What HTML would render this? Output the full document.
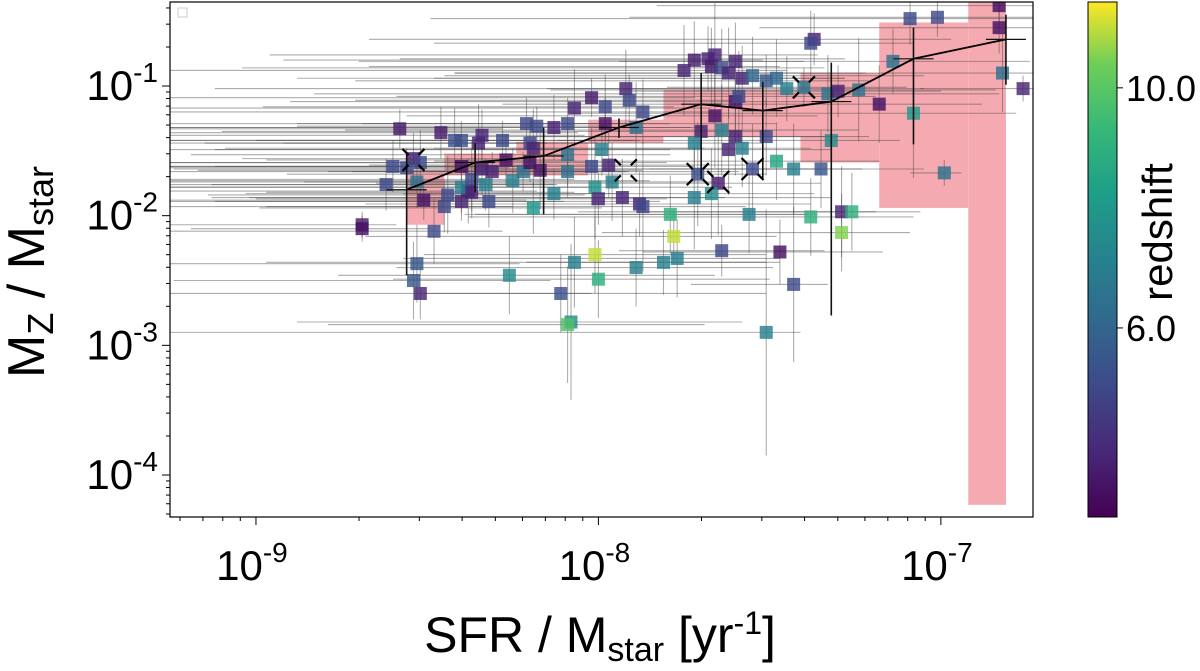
<!DOCTYPE html>
<html><head><meta charset="utf-8"><style>
html,body{margin:0;padding:0;background:#fff;}
svg{display:block;font-family:"Liberation Sans",sans-serif;}
</style></head><body>
<svg id="chart" width="1200" height="671" viewBox="0 0 1200 671">
<defs>
<linearGradient id="vir" x1="0" y1="1" x2="0" y2="0">
<stop offset="0" stop-color="#440154"/><stop offset="0.13" stop-color="#482878"/><stop offset="0.25" stop-color="#3e4989"/><stop offset="0.38" stop-color="#31688e"/><stop offset="0.5" stop-color="#26828e"/><stop offset="0.63" stop-color="#1f9e89"/><stop offset="0.75" stop-color="#35b779"/><stop offset="0.88" stop-color="#6ece58"/><stop offset="1" stop-color="#fde725"/>
</linearGradient>
<clipPath id="plotclip"><rect x="170" y="2" width="863" height="515"/></clipPath>
</defs>
<g id="band" clip-path="url(#plotclip)"></g>
<g id="errs" clip-path="url(#plotclip)"></g>
<g id="pts" clip-path="url(#plotclip)"></g>
<g id="median" clip-path="url(#plotclip)"></g>
<g id="axes"></g>
<rect x="178" y="8" width="9" height="9" fill="none" stroke="#ccc" stroke-width="1"/>
<rect x="1088" y="2" width="29" height="515" fill="url(#vir)" stroke="#000" stroke-width="1"/>
<g id="cbticks"></g>
<text x="1172" y="232" font-size="42" text-anchor="middle" transform="rotate(-90 1172 232)">redshift</text>
<text x="600" y="652" font-size="50" text-anchor="middle">SFR / M<tspan font-size="34" dy="9">star</tspan><tspan dy="-9"> [yr</tspan><tspan font-size="32" dy="-18">-1</tspan><tspan dy="18">]</tspan></text>
<text x="44" y="272" font-size="52" text-anchor="middle" transform="rotate(-90 44 272)">M<tspan font-size="36" dy="9">Z</tspan><tspan dy="-9"> / M</tspan><tspan font-size="36" dy="9">star</tspan></text>
</svg>
<script>
// data (log10 units)
const logSSFR = [-8.58,-8.46,-8.42,-8.40,-8.34,-8.35,-8.28,-8.54,-8.52,-8.60,-8.56,-8.62,-8.53,-8.51,-8.44,-8.45,-8.40,-8.38,-8.40,-8.37,-8.32,-8.40,-8.34,-8.31,-8.27,-8.37,-8.33,-8.25,-8.22,-8.20,-8.19,-8.21,-8.18,-8.13,-8.09,-8.19,-8.17,-8.20,-8.13,-8.09,-8.09,-8.07,-8.02,-7.98,-7.92,-7.91,-7.87,-7.98,-8.02,-7.97,-7.99,-7.96,-8.01,-8.00,-7.93,-7.88,-7.87,-7.89,-7.79,-7.78,-7.09,-7.01,-6.83,-6.83,-6.82,-6.76,-7.37,-7.38,-7.72,-7.75,-7.68,-7.66,-7.67,-7.64,-7.62,-7.60,-7.58,-7.55,-7.51,-7.48,-7.45,-7.40,-7.33,-7.30,-7.24,-7.18,-7.14,-7.08,-7.60,-7.59,-7.66,-7.70,-7.64,-7.60,-7.72,-7.62,-7.58,-7.51,-7.32,-7.48,-7.43,-7.35,-7.71,-7.65,-7.55,-7.72,-7.67,-7.56,-7.38,-7.29,-7.26,-7.29,-7.64,-7.47,-6.99,-7.77,-8.01,-8.07,-7.81,-7.89,-8.26,-8.00,-8.11,-7.43,-8.53,-8.54,-8.52,-8.48,-8.69,-8.69,-8.08,-8.09,-7.51];
const logMZ = [-1.33,-1.36,-1.42,-1.42,-1.38,-1.44,-1.42,-1.56,-1.59,-1.62,-1.63,-1.76,-1.74,-1.88,-1.84,-1.93,-1.89,-1.81,-1.78,-1.82,-1.89,-1.62,-1.64,-1.66,-1.57,-1.72,-1.76,-1.73,-1.66,-1.44,-1.48,-1.29,-1.31,-1.32,-1.29,-1.94,-1.65,-1.59,-1.83,-1.53,-1.66,-1.17,-1.09,-1.16,-1.02,-1.11,-1.20,-1.29,-1.62,-1.61,-1.49,-1.74,-1.78,-1.87,-1.86,-1.91,-1.93,-1.32,-1.99,-2.16,-0.48,-0.47,-0.38,-0.55,-0.90,-1.02,-0.64,-0.67,-0.80,-0.88,-0.79,-0.76,-0.85,-0.86,-0.90,-0.81,-0.94,-0.92,-0.96,-0.94,-1.02,-1.01,-1.06,-1.04,-1.03,-1.14,-0.81,-1.21,-1.12,-1.08,-1.23,-1.35,-1.34,-1.39,-1.44,-1.49,-1.48,-1.39,-1.42,-1.58,-1.64,-1.64,-1.68,-1.75,-1.64,-1.86,-1.83,-1.99,-2.01,-1.97,-1.97,-2.13,-2.27,-2.28,-1.67,-2.33,-2.30,-2.36,-2.36,-2.40,-2.46,-2.49,-2.60,-2.53,-2.37,-2.50,-2.60,-2.12,-2.07,-2.10,-2.82,-2.84,-2.90];
const redshift = [3.6,3.6,5.2,5.2,3.8,3.8,5.0,3.6,5.0,5.0,5.0,5.0,6.5,3.3,5.0,5.0,3.8,3.8,7.0,3.8,5.0,3.3,3.8,3.8,3.3,5.0,7.0,7.0,6.5,5.0,3.8,5.0,5.0,3.8,5.0,8.0,3.5,3.3,7.0,6.5,6.5,3.8,3.6,5.0,3.8,5.0,5.0,3.3,5.0,3.8,7.0,7.0,7.8,3.8,3.8,3.8,5.0,6.5,9.0,11.0,5.0,5.0,3.3,3.3,6.5,3.8,3.8,5.0,3.6,3.8,3.8,3.8,3.6,5.0,3.8,3.8,3.8,6.0,5.5,6.0,7.0,6.5,6.5,3.8,6.5,3.3,6.5,8.0,3.3,5.0,3.3,3.8,7.0,3.8,7.0,3.8,7.0,5.0,7.5,8.5,7.0,5.5,5.2,3.6,5.0,7.0,7.5,7.0,9.0,3.8,9.0,10.5,5.0,3.3,6.5,7.0,11.0,7.0,7.0,7.0,7.5,9.0,5.2,5.0,5.5,5.5,3.8,5.0,3.6,3.3,7.5,9.8,7.0];
const xErrLo = [1.2,0.9,1.4,0.6,1.1,0.8,1.3,0.5,0.9,1.0,1.4,0.8,1.2,1.5,0.7,1.0,0.9,1.3,1.1,0.6,0.8,1.4,0.9,1.2,0.7,1.0,0.8,1.1,0.5,1.3,0.9,1.5,0.7,1.2,0.6,0.8,1.0,1.4,0.9,1.1,0.7,1.3,1.6,1.0,1.2,0.8,1.4,0.9,1.1,0.7,1.3,0.9,1.5,1.0,1.2,0.8,1.1,1.4,0.6,0.9,1.4,0.9,1.0,0.7,1.6,0.3,1.3,1.1,1.2,1.5,0.9,1.3,1.0,1.4,0.8,1.1,1.3,0.9,1.2,1.0,0.7,0.4,1.5,0.6,0.9,1.1,0.8,1.0,1.3,1.0,0.9,1.4,1.1,0.8,1.2,1.5,0.9,0.7,0.8,1.0,0.6,0.5,1.2,1.0,0.8,1.3,0.9,0.8,1.0,0.6,0.8,0.7,0.3,0.4,0.1,0.8,0.5,0.9,0.4,0.7,0.5,0.6,0.4,0.3,0.9,0.7,0.8,1.2,0.6,0.5,0.8,0.7,1.75];
const xErrHi = [0.3,0.4,0.2,0.5,0.3,0.2,0.4,0.3,0.2,0.4,0.3,0.5,0.2,0.3,0.4,0.2,0.3,0.2,0.4,0.3,0.5,0.2,0.3,0.4,0.2,0.3,0.2,0.4,0.3,0.2,0.5,0.3,0.2,0.4,0.3,0.2,0.3,0.4,0.2,0.3,0.5,0.4,0.3,0.2,0.4,0.3,0.2,0.5,0.3,0.4,0.2,0.3,0.4,0.2,0.3,0.5,0.3,0.2,0.4,0.3,0.6,0.3,0.5,0.5,0.5,0.1,0.4,0.3,0.2,0.3,0.4,0.3,0.2,0.3,0.4,0.2,0.3,0.5,0.3,0.2,0.4,0.3,0.5,0.3,0.4,0.3,0.4,0.3,0.3,0.4,0.3,0.2,0.4,0.3,0.2,0.3,0.2,0.3,0.2,0.3,0.2,0.3,0.2,0.3,0.2,0.4,0.3,0.2,0.3,0.1,0.2,0.2,0.3,0.3,0.05,0.3,0.5,0.6,0.3,0.4,0.6,0.5,0.6,0.1,0.3,0.4,0.5,0.2,0.1,0.2,0.5,0.4,0.1];
const yErr = [0.15,0.2,0.25,0.15,0.2,0.3,0.15,0.2,0.25,0.2,0.15,0.2,0.2,0.15,0.3,0.2,0.15,0.25,0.2,0.15,0.2,0.25,0.2,0.15,0.2,0.3,0.2,0.25,0.15,0.2,0.3,0.2,0.15,0.25,0.2,0.2,0.3,0.15,0.2,0.25,0.2,0.3,0.15,0.25,0.3,0.2,0.25,0.2,0.3,0.25,0.2,0.3,0.4,0.2,0.3,0.25,0.5,0.35,0.3,0.2,0.2,0.15,0.15,0.2,0.3,0.1,0.2,0.25,0.3,0.35,0.25,0.4,0.3,0.3,0.35,0.3,0.25,0.3,0.2,0.3,0.25,0.15,0.3,0.2,0.4,0.3,0.25,0.5,0.3,0.35,0.4,0.3,0.35,0.3,0.3,0.35,0.3,0.3,0.35,0.3,0.35,0.3,0.4,0.4,0.35,0.4,0.35,0.3,0.3,0.35,0.3,0.3,0.2,0.25,0.1,0.3,0.3,0.35,0.25,0.3,0.3,0.3,0.3,0.6,0.3,0.3,0.2,0.25,0.1,0.1,0.6,0.45,0.95];
// binned median band
const binEdges = [-8.56,-8.45,-8.24,-8.03,-7.81,-7.41,-7.18,-6.92,-6.81];
const bandHi = [-1.65,-1.52,-1.43,-1.26,-1.03,-0.90,-0.51,-0.20];
const bandLo = [-2.07,-1.69,-1.69,-1.44,-1.39,-1.59,-1.94,-4.23];
const medX = [-8.56,-8.36,-8.16,-7.94,-7.70,-7.52,-7.32,-7.08,-6.81];
const medY = [-1.80,-1.59,-1.54,-1.32,-1.14,-1.19,-1.12,-0.79,-0.64];
const medYHi = [-1.53,-1.44,-1.32,-1.25,-0.90,-0.97,-0.82,-0.55,-0.45];
const medYLo = [-2.46,-1.82,-1.99,-1.40,-1.72,-1.71,-2.77,-1.45,-0.99];
const crossX = [-8.54,-7.92,-7.71,-7.65,-7.55,-7.40];
const crossY = [-1.57,-1.65,-1.68,-1.74,-1.64,-1.01];
const xTickExp = [-9,-8,-7];
const yTickExp = [-1,-2,-3,-4];
const cbTicks = [6.0,10.0];

const NS='http://www.w3.org/2000/svg';
const X0=170,X1=1033,Y0=2,Y1=517;
const xmin=-9.251,xmax=-6.731,ymin=-4.324,ymax=-0.352;
const sx=v=>X0+(v-xmin)/(xmax-xmin)*(X1-X0);
const sy=v=>Y1-(v-ymin)/(ymax-ymin)*(Y1-Y0);
const zmin=2.85,zmax=11.43;
const czy=z=>Y1-(z-zmin)/(zmax-zmin)*(Y1-Y0);
function mk(tag,attrs,parent){const e=document.createElementNS(NS,tag);for(const k in attrs)e.setAttribute(k,attrs[k]);parent.appendChild(e);return e;}
const VIR=[[68,1,84],[72,40,120],[62,73,137],[49,104,142],[38,130,142],[31,158,137],[53,183,121],[110,206,88],[253,231,37]];
function viridis(z){let t=Math.max(0,Math.min(1,(z-zmin)/(zmax-zmin)))*(VIR.length-1);const i=Math.min(VIR.length-2,Math.floor(t)),f=t-i;const c=VIR[i].map((a,k)=>Math.round(a+(VIR[i+1][k]-a)*f));return 'rgb('+c.join(',')+')';}

const band=document.getElementById('band');
for(let i=0;i<bandHi.length;i++){
  const r=mk('rect',{x:sx(binEdges[i]),y:sy(bandHi[i]),width:sx(binEdges[i+1])-sx(binEdges[i]),height:sy(bandLo[i])-sy(bandHi[i]),fill:'#f4aab0'},band);
  
  
}
const errs=document.getElementById('errs');
const pts=document.getElementById('pts');
for(let i=0;i<logSSFR.length;i++){
  const x=sx(logSSFR[i]),y=sy(logMZ[i]);
  const h=mk('line',{x1:sx(logSSFR[i]-xErrLo[i]),x2:sx(logSSFR[i]+xErrHi[i]),y1:y,y2:y,stroke:'rgba(70,70,70,0.45)','stroke-width':1.1},errs);
  
  
  const v=mk('line',{x1:x,x2:x,y1:sy(logMZ[i]+yErr[i]),y2:sy(logMZ[i]-yErr[i]),stroke:'rgba(70,70,70,0.45)','stroke-width':1.1},errs);
  
  
  const p=mk('rect',{x:x-6.5,y:y-6.5,width:13,height:13,fill:viridis(redshift[i]),'fill-opacity':0.82},pts);
  
  
}
const med=document.getElementById('median');
let d='';
for(let i=0;i<medX.length;i++){d+=(i?'L':'M')+sx(medX[i])+' '+sy(medY[i]);}
const ml=mk('path',{d:d,fill:'none',stroke:'#000','stroke-width':1.8},med);


for(let i=0;i<medX.length;i++){
  const x=sx(medX[i]);
  const e=mk('line',{x1:x,x2:x,y1:sy(medYHi[i]),y2:sy(medYLo[i]),stroke:'#111','stroke-width':1.6},med);
  
  
  const hb=mk('line',{x1:x-20,x2:x+20,y1:sy(medY[i]),y2:sy(medY[i]),stroke:'#111','stroke-width':1.2},med);
  
  
}
for(let i=0;i<crossX.length;i++){
  const x=sx(crossX[i]),y=sy(crossY[i]);
  const c=mk('path',{d:`M${x-11} ${y-11}L${x-5} ${y-5}M${x+5} ${y+5}L${x+11} ${y+11}M${x+11} ${y-11}L${x+5} ${y-5}M${x-5} ${y+5}L${x-11} ${y+11}`,stroke:'#000','stroke-width':2.2,fill:'none'},med);
  
  
}
const ax=document.getElementById('axes');
const fr=mk('rect',{x:X0,y:Y0,width:X1-X0,height:Y1-Y0,fill:'none',stroke:'#000','stroke-width':1.2},ax);


for(let e=-10;e<=-6;e++){
  for(let m=1;m<10;m++){
    const v=e+Math.log10(m);
    if(v<xmin||v>xmax)continue;
    const len=m===1?8:4;
    const t=mk('line',{x1:sx(v),x2:sx(v),y1:Y1,y2:Y1+len,stroke:'#000','stroke-width':1},ax);
    
    
  }
}
for(let e=-5;e<=0;e++){
  for(let m=1;m<10;m++){
    const v=e+Math.log10(m);
    if(v<ymin||v>ymax)continue;
    const len=m===1?8:4;
    const t=mk('line',{x1:X0-len,x2:X0,y1:sy(v),y2:sy(v),stroke:'#000','stroke-width':1},ax);
    
    
  }
}
xTickExp.forEach(e=>{
  const t=mk('text',{x:sx(e)-4,y:580,'font-size':42,'text-anchor':'middle'},ax);
  
  
  t.innerHTML='10<tspan font-size="28" dy="-18">'+e+'</tspan>';
});
yTickExp.forEach(e=>{
  const t=mk('text',{x:158,y:sy(e)+14,'font-size':42,'text-anchor':'end'},ax);
  
  
  t.innerHTML='10<tspan font-size="28" dy="-18">'+e+'</tspan>';
});
const cb=document.getElementById('cbticks');
cbTicks.forEach(z=>{
  const y=czy(z);
  const l=mk('line',{x1:1117,x2:1123,y1:y,y2:y,stroke:'#000','stroke-width':1},cb);
  
  
  const t=mk('text',{x:1126,y:y+13,'font-size':36},cb);
  
  
  t.textContent=z.toFixed(1);
});
</script>
</body></html>
